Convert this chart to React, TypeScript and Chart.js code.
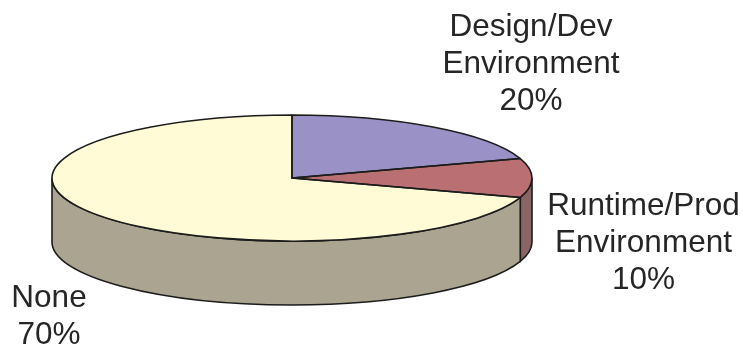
import { useEffect, useRef } from "react";
import { Chart, registerables } from "chart.js";

Chart.register(...registerables);

const categories = [["Design/Dev", "Environment"], ["Runtime/Prod", "Environment"], ["None"]];
const shares = [20, 10, 70];
const topColors = ["#9A91C6", "#BA6F72", "#FFFBD6"];
const wallColors = ["#6F6A90", "#8A6566", "#ABA490"];
const labelAnchors = [
  { x: 531, y: 27 },
  { x: 643.5, y: 206 },
  { x: 49, y: 298 },
];

const RX = 240;
const RY = 63;
const DEPTH = 64;
const LINE_HEIGHT = 37;
const OUTLINE = "#1c1c1c";

type ArcProps = { x: number; y: number; startAngle: number; endAngle: number; outerRadius: number };

const arcsOf = (chart: any): ArcProps[] =>
  chart
    .getDatasetMeta(0)
    .data.map((el: any) => el.getProps(["x", "y", "startAngle", "endAngle", "outerRadius"], true));

// Tilts the flat pie into an ellipse and raises it on a cylindrical wall.
const tiltedPie = {
  id: "tiltedPie",
  beforeDatasetDraw(chart: any) {
    const { ctx } = chart;
    const arcs = arcsOf(chart);
    ctx.save();
    ctx.lineWidth = 1.6;
    ctx.strokeStyle = OUTLINE;
    arcs.forEach((arc, i) => {
      const a0 = Math.max(arc.startAngle, 0);
      const a1 = Math.min(arc.endAngle, Math.PI);
      if (a1 <= a0) return;
      ctx.beginPath();
      ctx.ellipse(arc.x, arc.y, RX, RY, 0, a0, a1);
      ctx.ellipse(arc.x, arc.y + DEPTH, RX, RY, 0, a1, a0, true);
      ctx.closePath();
      ctx.fillStyle = wallColors[i];
      ctx.fill();
      ctx.stroke();
    });
    ctx.restore();

    const { x, y, outerRadius } = arcs[0];
    ctx.save();
    ctx.translate(x, y);
    ctx.scale(RX / outerRadius, RY / outerRadius);
    ctx.translate(-x, -y);
  },
  afterDatasetDraw(chart: any) {
    const { ctx } = chart;
    ctx.restore();
    ctx.save();
    ctx.lineWidth = 1.6;
    ctx.lineJoin = "round";
    ctx.strokeStyle = OUTLINE;
    arcsOf(chart).forEach((arc) => {
      ctx.beginPath();
      ctx.moveTo(arc.x, arc.y);
      ctx.ellipse(arc.x, arc.y, RX, RY, 0, arc.startAngle, arc.endAngle);
      ctx.closePath();
      ctx.stroke();
    });
    ctx.restore();
  },
  afterDraw(chart: any) {
    const { ctx } = chart;
    ctx.save();
    ctx.font = '31.5px "Liberation Sans", Arial, sans-serif';
    ctx.fillStyle = "#262626";
    ctx.textAlign = "center";
    ctx.textBaseline = "middle";
    categories.forEach((lines, i) => {
      const anchor = labelAnchors[i];
      [...lines, `${shares[i]}%`].forEach((line, n) => {
        ctx.fillText(line, anchor.x, anchor.y + n * LINE_HEIGHT);
      });
    });
    ctx.restore();
  },
};

export default function App() {
  const canvasRef = useRef<HTMLCanvasElement>(null);

  useEffect(() => {
    const chart = new Chart(canvasRef.current!, {
      type: "pie",
      data: {
        labels: categories.map((lines) => lines.join(" ")),
        datasets: [
          {
            data: shares,
            backgroundColor: topColors,
            borderWidth: 0,
            clip: false,
          } as any,
        ],
      },
      options: {
        responsive: false,
        animation: false,
        rotation: 0,
        layout: { padding: { left: 0, right: 159, top: 9, bottom: 0 } },
        plugins: { legend: { display: false }, tooltip: { enabled: false } },
      },
      plugins: [tiltedPie],
    });
    return () => chart.destroy();
  }, []);

  return (
    <div style={{ position: "fixed", left: 0, top: 0, width: 743, height: 347, background: "#fff" }}>
      <canvas ref={canvasRef} width={743} height={347} style={{ display: "block" }} />
    </div>
  );
}
